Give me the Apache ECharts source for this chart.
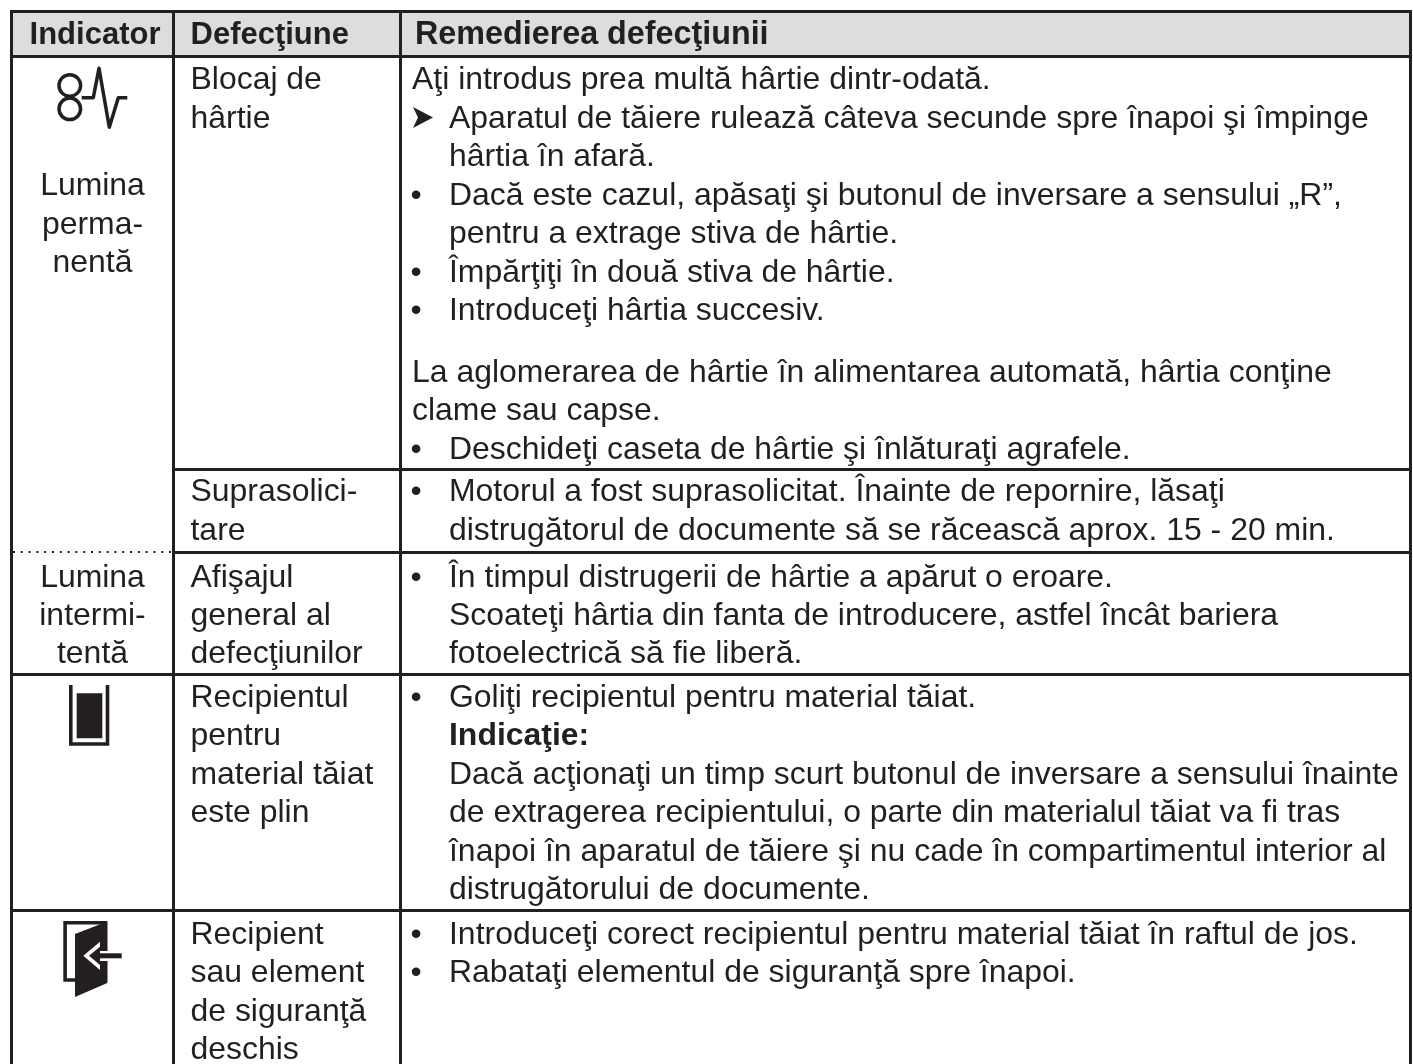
<!DOCTYPE html>
<html><head><meta charset="utf-8">
<style>html,body{margin:0;padding:0;background:#fff}#c{width:1413px;height:1064px}</style>
<script src="https://cdn.jsdelivr.net/npm/echarts@6/dist/echarts.min.js"></script></head>
<body><div id="c"></div>
<script>
var headers = ["Indicator", "Defecţiune", "Remedierea defecţiunii"];
var indicatorTexts = [["Lumina",185],["perma-",224],["nentă",262],["Lumina",577],["intermi-",615],["tentă",653]];
var faultTexts = [["Blocaj de",79],["hârtie",118],["Suprasolici-",491],["tare",530],["Afişajul",577],["general al",615],["defecţiunilor",653],
  ["Recipientul",697],["pentru",735],["material tăiat",774],["este plin",812],["Recipient",934],["sau element",972],["de siguranţă",1011],["deschis",1049]];
var remedyTexts = [
 ["","Aţi introdus prea multă hârtie dintr-odată.",79,0],
 ["➤","Aparatul de tăiere rulează câteva secunde spre înapoi şi împinge",118],
 ["","hârtia în afară.",156],
 ["•","Dacă este cazul, apăsaţi şi butonul de inversare a sensului „R”,",195],
 ["","pentru a extrage stiva de hârtie.",233],
 ["•","Împărţiţi în două stiva de hârtie.",272],
 ["•","Introduceţi hârtia succesiv.",310],
 ["","La aglomerarea de hârtie în alimentarea automată, hârtia conţine",372,0],
 ["","clame sau capse.",410,0],
 ["•","Deschideţi caseta de hârtie şi înlăturaţi agrafele.",449],
 ["•","Motorul a fost suprasolicitat. Înainte de repornire, lăsaţi",491],
 ["","distrugătorul de documente să se răcească aprox. 15 - 20 min.",530],
 ["•","În timpul distrugerii de hârtie a apărut o eroare.",577],
 ["","Scoateţi hârtia din fanta de introducere, astfel încât bariera",615],
 ["","fotoelectrică să fie liberă.",653],
 ["•","Goliţi recipientul pentru material tăiat.",697],
 ["","Indicaţie:",735,1,1],
 ["","Dacă acţionaţi un timp scurt butonul de inversare a sensului înainte",774],
 ["","de extragerea recipientului, o parte din materialul tăiat va fi tras",812],
 ["","înapoi în aparatul de tăiere şi nu cade în compartimentul interior al",851],
 ["","distrugătorului de documente.",889],
 ["•","Introduceţi corect recipientul pentru material tăiat în raftul de jos.",934],
 ["•","Rabataţi elementul de siguranţă spre înapoi.",972]
];
var INK="#231f20", FONT="'Liberation Sans', Arial, sans-serif", SIZE=31.95, DY=1.5;
var els=[];
function txt(s,x,y,o){o=o||{};els.push({type:'text',z:5,style:{text:s,x:x,y:y+DY,fill:INK,font:(o.bold?'bold ':'')+(o.size||SIZE)+'px '+(o.family||FONT),textAlign:o.align||'left',textBaseline:'middle',verticalAlign:'middle'}});}
function line(x1,y1,x2,y2,w,dash){els.push({type:'line',z:3,shape:{x1:x1,y1:y1,x2:x2,y2:y2},style:{stroke:INK,lineWidth:w||3,lineDash:dash||null}});}
function rect(x,y,w,h,fill,stroke,lw,z){els.push({type:'rect',z:z||1,shape:{x:x,y:y,width:w,height:h},style:{fill:fill||'none',stroke:stroke||null,lineWidth:lw||0}});}
function poly(type,pts,st,z){els.push({type:type,z:z||4,shape:{points:pts},style:st});}

rect(11.5,11.5,1399,45,"#dcddde");
line(10,11.5,1412,11.5);line(10,56.5,1412,56.5);
line(11.5,10,11.5,1064);line(173.5,10,173.5,1064);line(400.5,10,400.5,1064);line(1410.5,10,1410.5,1064);
line(173.5,469.5,1412,469.5);
line(173.5,552.5,1412,552.5);
line(13,552,172,552,2,[2,5.8]);
line(10,674.5,1412,674.5);
line(10,910.5,1412,910.5);

txt(headers[0],95,34,{bold:1,align:'center',size:31});
txt(headers[1],190.5,34,{bold:1,size:31});
txt(headers[2],415,34,{bold:1,size:32.3});
indicatorTexts.forEach(function(t){txt(t[0],92.5,t[1],{align:'center'});});
faultTexts.forEach(function(t){txt(t[0],190.5,t[1]);});
remedyTexts.forEach(function(r){
  var x = r[3]===0 ? 412 : 449;
  txt(r[1],x,r[2],{bold:r[4]});
  if(r[0]==='•') txt('•',410.5,r[2]);
  if(r[0]==='➤') poly('polygon',[[413,107],[433,117.5],[413,128],[418,117.5]],{fill:INK});
});

// icons
els.push({type:'circle',z:4,shape:{cx:69.8,cy:85.5,r:10.8},style:{fill:'none',stroke:INK,lineWidth:3.5}});
els.push({type:'circle',z:4,shape:{cx:69.8,cy:108.8,r:10.8},style:{fill:'none',stroke:INK,lineWidth:3.5}});
poly('polyline',[[81.7,97.7],[93.3,97.7],[99,68.3],[109.3,127.3],[118.3,97.7],[127.3,97.7]],{fill:'none',stroke:INK,lineWidth:3.5,lineJoin:'round'});
poly('polyline',[[70.8,685],[70.8,744],[107.5,744],[107.5,685]],{fill:'none',stroke:INK,lineWidth:3.6,lineJoin:'miter'});
rect(76.7,693.3,25.6,45,INK,null,0,4);
rect(65.1,922.8,40.4,57.2,'none',INK,3.6,4);
poly('polygon',[[75,934],[107.3,921.5],[107.3,983],[75,997]],{fill:INK});
rect(100,951,8,10,'#fff',null,0,5);
poly('polygon',[[83.3,955.8],[100,941.7],[100,970]],{fill:'#fff'},5);
poly('polygon',[[89,955.8],[100,946.7],[100,965]],{fill:INK},6);
poly('polyline',[[98,955.8],[121.7,955.8]],{fill:'none',stroke:INK,lineWidth:5},6);

var chart=echarts.init(document.getElementById('c'),null,{renderer:'canvas'});
chart.setOption({animation:false,backgroundColor:'#fff',graphic:{elements:els}});
</script></body></html>
